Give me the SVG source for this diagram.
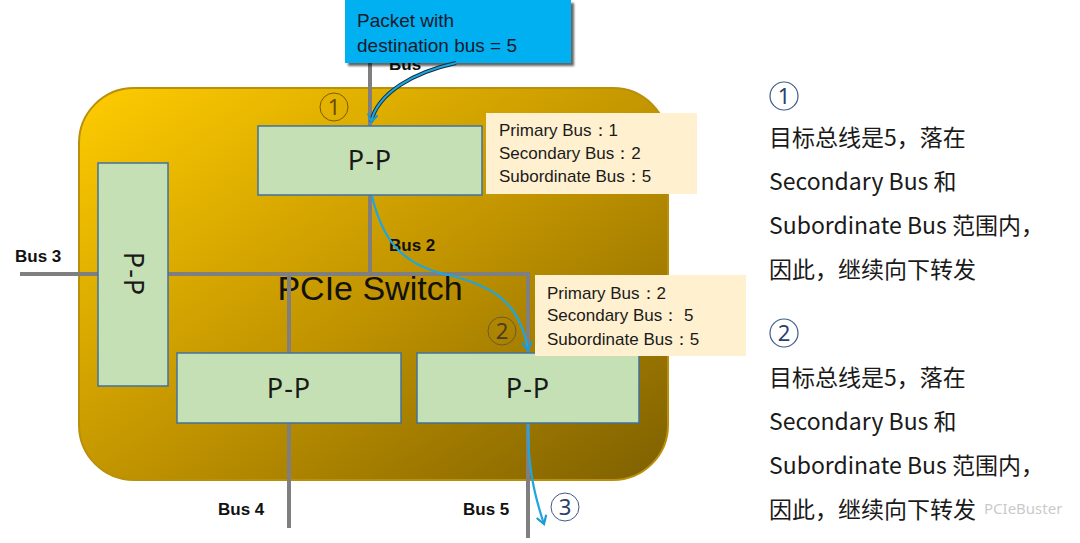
<svg xmlns="http://www.w3.org/2000/svg" width="1080" height="543" viewBox="0 0 1080 543">
<defs>
<linearGradient id="sw" x1="0" y1="0" x2="1" y2="1">
<stop offset="0" stop-color="#FFCC00"/>
<stop offset="0.5" stop-color="#C49600"/>
<stop offset="1" stop-color="#7E6000"/>
</linearGradient>
<marker id="ah" viewBox="0 0 12 12" refX="9" refY="6" markerWidth="12" markerHeight="12" markerUnits="userSpaceOnUse" orient="auto">
<path d="M1,1 L9,6 L1,11" fill="none" stroke="#1B9AD6" stroke-width="2.2"/>
</marker>
<filter id="sh" x="-10%" y="-10%" width="130%" height="140%">
<feDropShadow dx="3" dy="3" stdDeviation="1.2" flood-color="#000" flood-opacity="0.6"/>
</filter>
</defs>
<style>
.pp{fill:#C5E0B4;stroke:#41719C;stroke-width:1.5}
.ppt{font-family:"Noto Sans","DejaVu Sans",sans-serif;font-size:27px;fill:#1a1a1a;text-anchor:middle;letter-spacing:1px}
.bus{stroke:#7F7F7F;stroke-width:4;fill:none}
.bl{font-family:"Liberation Sans",Arial,sans-serif;font-size:17px;font-weight:bold;fill:#111}
.info{fill:#FFF0CF}
.it{font-family:"Liberation Sans",Arial,sans-serif;font-size:17px;fill:#1a1a1a}
.rt{font-family:"Noto Sans CJK SC","Noto Sans",sans-serif;font-size:23px;fill:#1a1a1a}
.dark{stroke:#0d2a3a;stroke-width:4;fill:none}
.blue{stroke:#1FA5E0;stroke-width:2.2;fill:none}
.cn{font-family:"Noto Sans","DejaVu Sans",sans-serif;font-size:22px;text-anchor:middle}
</style>
<g id="switch">
<rect x="79" y="88" width="589" height="392" rx="55" ry="55" fill="url(#sw)" stroke="#B8900A" stroke-width="2"/>
<text x="370" y="300" font-family="Liberation Sans,Arial,sans-serif" font-size="34" fill="#111" text-anchor="middle">PCIe Switch</text>
</g>
<g id="connectors">
<line class="bus" x1="370" y1="40" x2="370" y2="126"/>
<line class="bus" x1="370" y1="195" x2="370" y2="274"/>
<line class="bus" x1="168" y1="274" x2="530" y2="274"/>
<line class="bus" x1="528" y1="272" x2="528" y2="353"/>
<line class="bus" x1="289" y1="274" x2="289" y2="353"/>
<line class="bus" x1="20" y1="274" x2="98" y2="274"/>
<line class="bus" x1="289" y1="423" x2="289" y2="528"/>
<line class="bus" x1="528" y1="423" x2="528" y2="538"/>
</g>
<g id="labels">
<text class="bl" x="15" y="262">Bus 3</text>
<text class="bl" x="389" y="251">Bus 2</text>
<text class="bl" x="218" y="515">Bus 4</text>
<text class="bl" x="463" y="515">Bus 5</text>
<text class="bl" x="389" y="70">Bus</text>
</g>
<g id="packet">
<rect x="345" y="0" width="226" height="63" fill="#00B0F0" filter="url(#sh)"/>
<text x="357" y="27" font-family="Liberation Sans,Arial,sans-serif" font-size="19" fill="#1a1a2e">Packet with</text>
<text x="357" y="52" font-family="Liberation Sans,Arial,sans-serif" font-size="19" fill="#1a1a2e">destination bus = 5</text>
</g>
<g id="pp-top">
<rect class="pp" x="258" y="126" width="224" height="69"/>
<text class="ppt" x="370" y="170">P-P</text>
</g>
<g id="pp-left">
<rect class="pp" x="98" y="163" width="70" height="223"/>
<text class="ppt" transform="translate(124,274) rotate(90)" x="0" y="0">P-P</text>
</g>
<g id="pp-bl">
<rect class="pp" x="177" y="353" width="224" height="70"/>
<text class="ppt" x="289" y="398">P-P</text>
</g>
<g id="pp-br">
<rect class="pp" x="417" y="353" width="222" height="70"/>
<text class="ppt" x="528" y="398">P-P</text>
</g>
<g id="info1">
<rect class="info" x="486" y="113" width="211" height="81"/>
<text class="it" x="499" y="136">Primary Bus：1</text>
<text class="it" x="499" y="159">Secondary Bus：2</text>
<text class="it" x="499" y="182">Subordinate Bus：5</text>
</g>
<g id="info2">
<rect class="info" x="535" y="275" width="211" height="81"/>
<text class="it" x="547" y="299">Primary Bus：2</text>
<text class="it" x="547" y="321">Secondary Bus：  5</text>
<text class="it" x="547" y="345">Subordinate Bus：5</text>
</g>
<g id="flow">
<path class="dark" d="M456,63 C415,72 378,92 371,122"/>
<path class="blue" d="M456,63 C415,72 378,92 371,122" marker-end="url(#ah)"/>
<path class="blue" d="M372,196 C382,238 400,262 440,273 C490,284 520,300 528,350" marker-end="url(#ah)"/>
<path class="blue" d="M528,424 C528,462 532,488 544,524" marker-end="url(#ah)"/>
</g>
<g id="markers">
<circle cx="334" cy="107" r="14" fill="none" stroke="#7A5A00" stroke-width="1"/>
<text class="cn" x="334" y="115" fill="#6A4E00">1</text>
<circle cx="502" cy="331" r="14" fill="none" stroke="#6B5A30" stroke-width="1"/>
<text class="cn" x="502" y="339" fill="#4A3C20">2</text>
<circle cx="565" cy="507" r="14" fill="none" stroke="#3F5A8A" stroke-width="1"/>
<text class="cn" x="565" y="515" fill="#2A3F6A">3</text>
</g>
<g id="notes">
<circle cx="784" cy="96" r="14" fill="none" stroke="#3F5A8A" stroke-width="1.2"/>
<text class="cn" x="784" y="104" fill="#2A3F6A">1</text>
<text class="rt" x="769" y="146">目标总线是5，落在</text>
<text class="rt" x="769" y="190">Secondary Bus 和</text>
<text class="rt" x="769" y="234">Subordinate Bus 范围内，</text>
<text class="rt" x="769" y="278">因此，继续向下转发</text>
<circle cx="784" cy="333" r="14" fill="none" stroke="#3F5A8A" stroke-width="1.2"/>
<text class="cn" x="784" y="341" fill="#2A3F6A">2</text>
<text class="rt" x="769" y="386">目标总线是5，落在</text>
<text class="rt" x="769" y="430">Secondary Bus 和</text>
<text class="rt" x="769" y="474">Subordinate Bus 范围内，</text>
<text class="rt" x="769" y="518">因此，继续向下转发</text>
</g>
<g id="watermark">
<text x="984" y="514" font-family="Noto Sans,sans-serif" font-size="15" fill="#BBBBBB" fill-opacity="0.8">PCIeBuster</text>
</g>
</svg>
